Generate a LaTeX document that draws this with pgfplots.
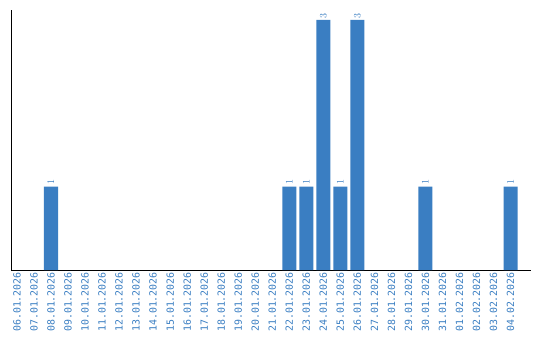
\documentclass[border=0pt]{standalone}
\usepackage{pgfplots}
\pgfplotsset{compat=1.18}
\usepackage{fontspec}
\setmainfont{DejaVu Sans Mono}
\definecolor{barblue}{HTML}{3A7EC2}
\begin{document}
\begin{tikzpicture}
\useasboundingbox (-11pt,-70pt) rectangle (529pt,270pt);
\begin{axis}[
  at={(0,0)}, anchor=south west,
  scale only axis, width=520pt, height=260pt,
  xmin=-0.35, xmax=30.2, ymin=0, ymax=3.12,
  axis x line=bottom, axis y line=left,
  axis line style={-, line width=0.8pt, black},
  ytick=\empty,
  xtick={0,...,29},
  major tick length=0pt,
  xticklabels={06.01.2026,07.01.2026,08.01.2026,09.01.2026,10.01.2026,11.01.2026,12.01.2026,13.01.2026,14.01.2026,15.01.2026,16.01.2026,17.01.2026,18.01.2026,19.01.2026,20.01.2026,21.01.2026,22.01.2026,23.01.2026,24.01.2026,25.01.2026,26.01.2026,27.01.2026,28.01.2026,29.01.2026,30.01.2026,31.01.2026,01.02.2026,02.02.2026,03.02.2026,04.02.2026},
  xticklabel style={rotate=90, anchor=east, font=\fontsize{9.9}{10}\selectfont, text=barblue, inner sep=2pt},
  ybar, bar width=14pt, bar shift=0pt,
  nodes near coords,
  nodes near coords style={rotate=90, anchor=west, font=\fontsize{9.9}{10}\selectfont, text=barblue, inner sep=1.5pt},
  clip=false,
]
\addplot[fill=barblue, draw=none] coordinates {
  (2,1) (16,1) (17,1) (18,3) (19,1) (20,3) (24,1) (29,1)
};
\end{axis}
\end{tikzpicture}
\end{document}
